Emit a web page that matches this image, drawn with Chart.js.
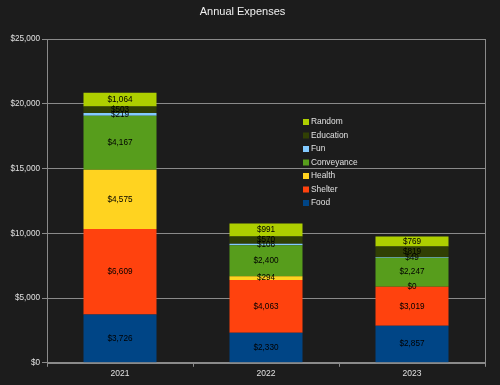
<!DOCTYPE html>
<html>
<head>
<meta charset="utf-8">
<style>
  body { margin: 0; background: #1c1c1c; }
</style>
<script src="https://cdn.jsdelivr.net/npm/chart.js@4/dist/chart.umd.min.js"></script>
</head>
<body>
<canvas id="expenses" width="500" height="385"></canvas>
<script>
// data
var years = ["2021", "2022", "2023"];
var food = [3726, 2330, 2857];
var shelter = [6609, 4063, 3019];
var health = [4575, 294, 0];
var conveyance = [4167, 2400, 2247];
var fun = [219, 108, 49];
var education = [503, 570, 819];
var random = [1064, 991, 769];

var money = function (v) {
  return "$" + Number(v).toLocaleString("en-US");
};

// background + frame
var frame = {
  id: "frame",
  beforeDraw: function (chart) {
    var c = chart.ctx;
    c.save();
    c.fillStyle = "#1c1c1c";
    c.fillRect(0, 0, chart.width, chart.height);
    c.restore();
  },
  afterDraw: function (chart) {
    var a = chart.chartArea;
    var c = chart.ctx;
    c.save();
    c.strokeStyle = "#8a8a8a";
    c.lineWidth = 1;
    c.strokeRect(Math.round(a.left) + 0.5, Math.round(a.top) + 0.5, Math.round(a.right - a.left), Math.round(a.bottom - a.top));
    c.restore();
  }
};

// value labels in the middle of each segment
var barLabels = {
  id: "barLabels",
  afterDatasetsDraw: function (chart) {
    var c = chart.ctx;
    c.save();
    c.font = "8.2px 'Liberation Sans', Arial, sans-serif";
    c.fillStyle = "#000";
    c.textAlign = "center";
    c.textBaseline = "middle";
    chart.data.datasets.forEach(function (ds, i) {
      chart.getDatasetMeta(i).data.forEach(function (bar, j) {
        c.fillText(money(ds.data[j]), bar.x, (bar.y + bar.base) / 2);
      });
    });
    c.restore();
  }
};

// legend inside the plot, top series first
var innerLegend = {
  id: "innerLegend",
  afterDraw: function (chart) {
    var c = chart.ctx;
    var sets = chart.data.datasets.slice().reverse();
    c.save();
    c.font = "8.4px 'Liberation Sans', Arial, sans-serif";
    c.textBaseline = "middle";
    sets.forEach(function (ds, i) {
      var y = 122 + i * 13.5;
      c.fillStyle = ds.backgroundColor;
      c.fillRect(303, y - 3, 6, 6);
      c.fillStyle = "#e0e0e0";
      c.fillText(ds.label, 311, y);
    });
    c.restore();
  }
};

var ctx = document.getElementById("expenses").getContext("2d");
var chart = new Chart(ctx, {
  type: "bar",
  data: {
    labels: years,
    datasets: [
      { label: "Food", data: food, backgroundColor: "#004586" },
      { label: "Shelter", data: shelter, backgroundColor: "#ff420e" },
      { label: "Health", data: health, backgroundColor: "#ffd320" },
      { label: "Conveyance", data: conveyance, backgroundColor: "#579d1c" },
      { label: "Fun", data: fun, backgroundColor: "#83caff" },
      { label: "Education", data: education, backgroundColor: "#314004" },
      { label: "Random", data: random, backgroundColor: "#aecf00" }
    ]
  },
  options: {
    responsive: false,
    animation: false,
    barPercentage: 0.5,
    categoryPercentage: 1,
    layout: { padding: { left: 0, right: 15, top: 0, bottom: 4 } },
    plugins: {
      legend: { display: false },
      tooltip: { enabled: false },
      title: {
        display: true,
        text: "Annual Expenses",
        color: "#f0f0f0",
        font: { family: "'Liberation Sans', Arial, sans-serif", size: 11, weight: "normal" },
        padding: { top: 5.5, bottom: 20.5 }
      }
    },
    scales: {
      x: {
        stacked: true,
        grid: { display: true, drawOnChartArea: false, drawTicks: true, offset: true, tickLength: 4, color: "#8a8a8a" },
        border: { color: "#8a8a8a" },
        ticks: { color: "#e0e0e0", font: { family: "'Liberation Sans', Arial, sans-serif", size: 8.5 }, padding: 2 }
      },
      y: {
        stacked: true,
        min: 0,
        max: 25000,
        afterFit: function (scale) { scale.width = 47; },
        grid: { color: "#8a8a8a", tickLength: 5 },
        border: { color: "#8a8a8a" },
        ticks: {
          stepSize: 5000,
          color: "#e0e0e0",
          font: { family: "'Liberation Sans', Arial, sans-serif", size: 8.2 },
          padding: 2,
          callback: function (v) { return money(v); }
        }
      }
    }
  },
  plugins: [frame, barLabels, innerLegend]
});
</script>
</body>
</html>
